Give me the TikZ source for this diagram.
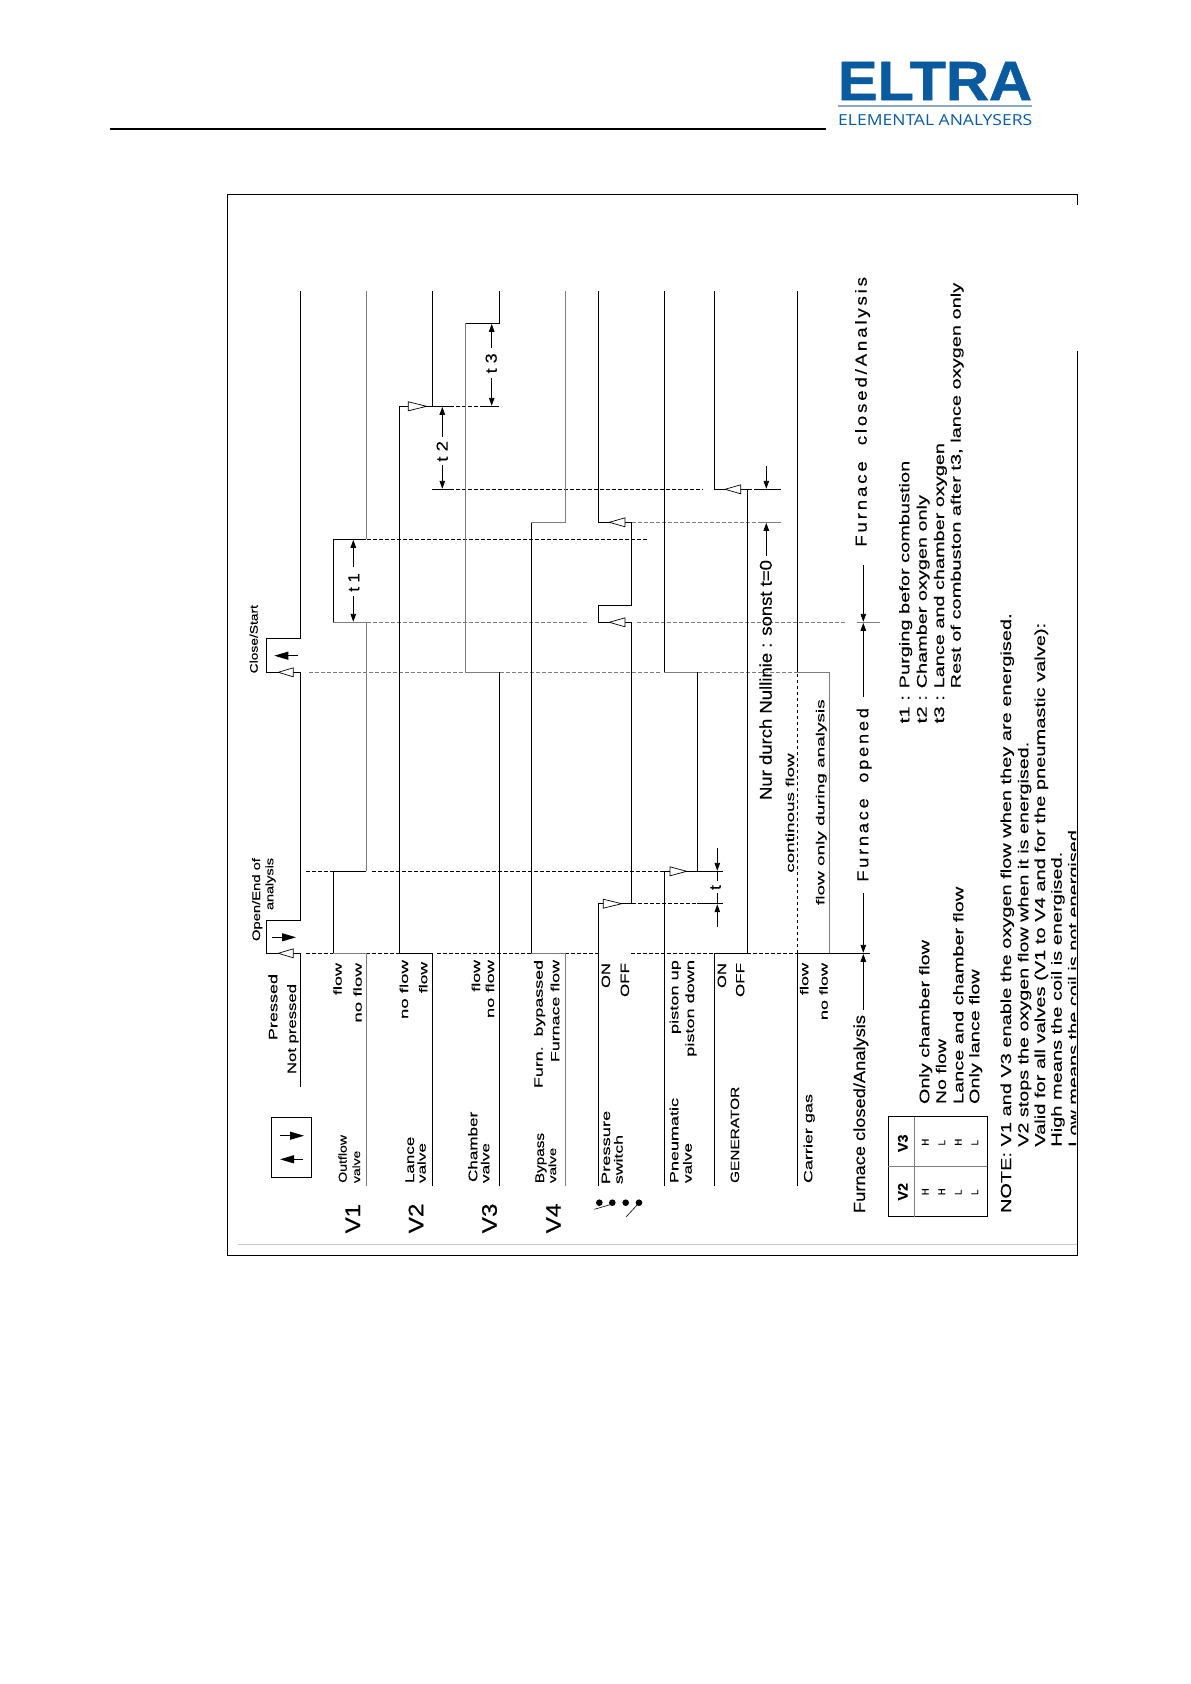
\documentclass[tikz,border=0pt]{standalone}
\usepackage{fontspec}
\usepackage{graphicx}
\setmainfont[FakeBold=0.15]{Liberation Sans}
\newfontfamily\plainbold[FakeBold=0.9]{Liberation Sans Bold}
\newfontfamily\heavyv[FakeBold=0.5]{Liberation Sans}
\newfontfamily\logofont{Open Sans}
\usetikzlibrary{arrows.meta}
\definecolor{gline}{RGB}{125,125,125}
\definecolor{eltrablue}{RGB}{10,90,160}
\definecolor{eltrabar}{RGB}{140,168,196}
\definecolor{pagegrey}{RGB}{200,200,200}
\newcounter{tn}
\newcommand{\tx}[5]{\stepcounter{tn}\pgfmathsetlengthmacro{\tl}{#3-#4}%
  \node[lab,name=t\thetn] at (#2,#3) {\resizebox{\tl}{\height}{\fontsize{#1}{#1}\selectfont #5}};}
\newcommand{\otri}[3]{\draw[otr] (#1,#2) -- (#3,#2-4.5) -- (#3,#2+4.5) -- cycle;}
\tikzset{
  lab/.style={rotate=90,anchor=base west,inner sep=0pt,outer sep=0pt},
  sig/.style={draw=black,line width=0.9pt,line join=miter},
  gsig/.style={draw=gline,line width=0.9pt,line join=miter},
  dsh/.style={draw=black,line width=0.8pt,dash pattern=on 3.5pt off 2.5pt},
  gdsh/.style={draw=gline,line width=0.8pt,dash pattern=on 3.5pt off 2.5pt},
  otr/.style={draw=black,line width=0.7pt,fill=white,line join=miter},
  dimn/.style={draw=black,line width=0.9pt,-{Triangle[length=8pt,width=5.5pt]}},
  plain/.style={draw=black,line width=0.9pt},
  big/.style={draw=black,line width=0.9pt,-{Triangle[length=14pt,width=8pt]}},
  frm/.style={draw=black,line width=1pt},
}
\begin{document}
\begin{tikzpicture}[x=1pt,y=-1pt]
\useasboundingbox[fill=white] (0,0) rectangle (1191,1684);
% header
\draw[line width=2pt] (110,129) -- (826,129);
\node[inner sep=0pt,anchor=base west,text=eltrablue] (logo) at (837.7,100)
  {\resizebox{194pt}{38pt}{\plainbold ELTRA}};
\fill[eltrabar] (837.7,104.7) rectangle (1031.7,106.9);
\node[inner sep=0pt,anchor=base west,text=eltrablue] (logosub) at (838,125)
  {\resizebox{194pt}{11pt}{\logofont ELEMENTAL ANALYSERS}};
% frame
\draw[frm] (1077,205) -- (1077,194) -- (227,194) -- (227,1255.5) -- (1077,1255.5) -- (1077,351);
\draw[draw=pagegrey,line width=0.9pt] (238,1244) -- (1077,1244);
% dashed guide lines
\draw[dsh] (306,953.3) -- (333,953.3) (366,953.3) -- (399,953.3) (437,953.3) -- (531,953.3)
  (565,953.3) -- (598,953.3) (631,953.3) -- (714,953.3) (747,953.3) -- (797,953.3);
\draw[dsh] (306,871.3) -- (333,871.3) (372,871.3) -- (664,871.3);
\draw[dsh] (632,903.7) -- (698,903.7);
\draw[gdsh] (309,672.3) -- (465,672.3) (500,672.3) -- (660,672.3) (698,672.3) -- (797,672.3);
\draw[gdsh] (367,622.3) -- (588,622.3) (637,622.3) -- (847,622.3);
\draw[dsh] (367,539.3) -- (647,539.3);
\draw[gdsh] (632,522.3) -- (758,522.3);
\draw[dsh] (450,489.3) -- (703,489.3) (748,489.3) -- (758,489.3);
\draw[dsh] (450,406.3) -- (480,406.3);
\draw[dsh] (797.3,953.3) -- (797.3,672.3);
% signal traces
\draw[sig] (300.3,1087) -- (300.3,953.3) -- (266,953.3) -- (266,920.3) -- (300.3,920.3) -- (300.3,672.3)
  -- (266,672.3) -- (266,638.3) -- (300.3,638.3) -- (300.3,291);
\draw[gsig] (366.3,1186) -- (366.3,953.3) -- (333.3,953.3);
\draw[sig] (333.3,953.3) -- (333.3,871.3) -- (366.3,871.3);
\draw[gsig] (366.3,871.3) -- (366.3,622.3) -- (333.3,622.3);
\draw[sig] (333.3,622.3) -- (333.3,539.3) -- (366.3,539.3);
\draw[gsig] (366.3,539.3) -- (366.3,291);
\draw[sig] (432.3,1186) -- (432.3,953.3) -- (399.3,953.3) -- (399.3,406.3) -- (432.3,406.3) -- (432.3,291);
\draw[sig] (499.3,1186) -- (499.3,672.3);
\draw[gsig] (499.3,672.3) -- (465.7,672.3) -- (465.7,323.3);
\draw[sig] (465.7,323.3) -- (499.3,323.3) -- (499.3,291);
\draw[gsig] (565.3,1186) -- (565.3,953.3) -- (531.3,953.3);
\draw[sig] (531.3,953.3) -- (531.3,522.3);
\draw[gsig] (531.3,522.3) -- (565.3,522.3) -- (565.3,291);
\draw[sig] (598.3,1186) -- (598.3,903.7) -- (631.3,903.7) -- (631.3,622.3) -- (598.3,622.3) -- (598.3,605)
  -- (631.3,605) -- (631.3,522.3) -- (598.3,522.3) -- (598.3,291);
\draw[sig] (664.3,1186) -- (664.3,871.3) -- (697.3,871.3) -- (697.3,672.3);
\draw[gsig] (697.3,672.3) -- (664.3,672.3);
\draw[sig] (664.3,672.3) -- (664.3,291);
\draw[sig] (714.3,1186) -- (714.3,953.3) -- (747.3,953.3) -- (747.3,489.3) -- (714.3,489.3) -- (714.3,291);
\draw[sig] (797.3,1186) -- (797.3,953.3) -- (870,953.3);
\draw[gsig] (829.3,953.3) -- (829.3,672.3) -- (797.3,672.3);
\draw[sig] (797.3,672.3) -- (797.3,291);
% solid extension ticks
\draw[plain] (697.3,903.7) -- (723,903.7) (697.3,871.3) -- (723,871.3);
\draw[plain] (432.3,489.3) -- (450,489.3) (432.3,406.3) -- (450,406.3) (480,406.3) -- (499,406.3);
\draw[draw=gline,line width=0.9pt] (857,622.3) -- (880,622.3) (758,522.3) -- (781,522.3);
\draw[plain] (758,489.3) -- (781,489.3);
% open arrowheads
\otri{278.3}{953.3}{293.3}
\otri{278.3}{672.3}{293.3}
\otri{609.3}{622.3}{625}
\otri{609.3}{522.3}{625}
\otri{426.7}{406.3}{408.3}
\otri{725}{489.3}{740.7}
\otri{686.7}{871.3}{670}
\otri{621.7}{903.7}{603.3}
% filled arrows
\draw[big] (272,937.3) -- (296,937.3);
\draw[big] (297.7,655.7) -- (274.3,655.7);
% legend box
\draw[frm] (271.3,1117.3) rectangle (311.7,1177.3);
\draw[big] (280,1135.7) -- (304,1135.7);
\draw[big] (302.7,1159.3) -- (280,1159.3);
% dimension lines
\draw[dimn] (353.3,566.7) -- (353.3,539.8);
\draw[dimn] (353.3,596) -- (353.3,621.8);
\draw[dimn] (442.3,436.7) -- (442.3,406.8);
\draw[dimn] (442.3,465) -- (442.3,488.8);
\draw[dimn] (491.7,348) -- (491.7,323.8);
\draw[dimn] (491.7,378) -- (491.7,405.8);
\draw[dimn] (717.3,848) -- (717.3,870.8);
\draw[dimn] (717.3,926.7) -- (717.3,904.2);
\draw[plain] (717.3,871.3) -- (717.3,881) (717.3,893) -- (717.3,903.7);
\draw[dimn] (766.3,466) -- (766.3,488.8);
\draw[dimn] (766.3,556) -- (766.3,522.8);
\draw[dimn] (863.3,565) -- (863.3,621.8);
\draw[dimn] (863.3,696.7) -- (863.3,622.8);
\draw[dimn] (863.3,893) -- (863.3,952.8);
\draw[dimn] (863.3,1010) -- (863.3,953.8);
% switch symbol
\foreach \dx in {599.3,612.3,625.7,639}{\fill (\dx,1202.7) ellipse (3.3pt and 3.3pt);}
\draw[line width=0.6pt] (594.3,1209.3) -- (612.3,1204);
\draw[line width=0.6pt] (626,1217) -- (638,1204);
% table
\draw[frm] (888.3,1116.7) rectangle (987.3,1216.7);
\draw[draw=gline,line width=0.8pt] (914.3,1116.7) -- (914.3,1216.7) (888.3,1166) -- (987.3,1166);
\tx{14}{907.7}{1200.5}{1183}{\bfseries V2}
\tx{14}{907.7}{1152}{1134.5}{\bfseries V3}
\tx{9.5}{928.5}{1195}{1188.5}{H}
\tx{9.5}{945}{1195}{1188.5}{H}
\tx{9.5}{961.5}{1195}{1189.5}{L}
\tx{9.5}{978}{1195}{1189.5}{L}
\tx{9.5}{928.5}{1145.5}{1139}{H}
\tx{9.5}{945}{1145.5}{1140}{L}
\tx{9.5}{961.5}{1145.5}{1139}{H}
\tx{9.5}{978}{1145.5}{1140}{L}
% left column labels
\tx{21}{360}{1233.3}{1204}{\heavyv V1}
\tx{21}{423.3}{1233.3}{1203.5}{\heavyv V2}
\tx{21}{496.7}{1233.3}{1203.5}{\heavyv V3}
\tx{21}{560.7}{1233.3}{1203.5}{\heavyv V4}
\tx{11.5}{346.7}{1182.7}{1135}{Outflow}
\tx{10.5}{360}{1183}{1150.7}{valve}
\tx{12.5}{414}{1183}{1136.7}{Lance}
\tx{11.5}{425.7}{1183}{1143}{valve}
\tx{12.5}{477.3}{1182}{1111.7}{Chamber}
\tx{11.5}{489.3}{1183}{1143}{valve}
\tx{12.5}{544}{1183}{1133}{Bypass}
\tx{10.5}{556}{1183}{1147.7}{valve}
\tx{12}{610}{1184}{1110.7}{Pressure}
\tx{12}{622.7}{1184}{1135}{switch}
\tx{12}{678.3}{1183}{1098}{Pneumatic}
\tx{12}{691.7}{1183}{1143}{valve}
\tx{12}{739}{1183}{1086.7}{GENERATOR}
\tx{12}{812.3}{1183}{1094}{Carrier gas}
% state labels
\tx{12.3}{277.3}{1040}{974}{Pressed}
\tx{12.3}{296}{1074}{984}{Not pressed}
\tx{11.5}{341.7}{995}{963}{flow}
\tx{11.5}{361.7}{1022.7}{963}{no flow}
\tx{11.5}{408}{1019}{960}{no flow}
\tx{11.5}{427.3}{993}{962}{flow}
\tx{11.5}{480}{991.7}{960}{flow}
\tx{11.5}{494}{1018}{960}{no flow}
\tx{12}{542.7}{1088}{960}{Furn.\ \ bypassed}
\tx{12}{559.3}{1062}{960}{Furnace flow}
\tx{12}{610}{988}{963}{ON}
\tx{12}{629}{997}{963}{OFF}
\tx{12}{678.3}{1034}{960}{piston up}
\tx{12}{694}{1056.7}{960}{piston down}
\tx{12}{726}{988}{963}{ON}
\tx{12}{744.3}{997}{963}{OFF}
\tx{11.5}{808.3}{995}{963}{flow}
\tx{11.5}{827.7}{1020}{963}{no flow}
\tx{11}{260}{941}{858}{Open/End of}
\tx{11}{273.3}{910}{858}{analysis}
\tx{11}{257.7}{673.3}{605}{Close/Start}
\tx{11.5}{794}{872.7}{753.3}{continous flow}
\tx{11.5}{824.3}{905}{699.3}{flow only during analysis}
% time labels
\tx{16}{359.3}{591.7}{573.3}{t 1}
\tx{16}{447.7}{461.7}{441}{t 2}
\tx{16}{496.7}{373.3}{353.3}{t 3}
\tx{16}{720.7}{890}{885}{t}
\tx{17}{771.7}{800}{560}{Nur durch Nullinie : sonst t=0}
% furnace
\tx{16}{865}{1213}{1015}{Furnace closed/Analysis}
\tx{16}{868.3}{881.7}{708}{\addfontfeature{LetterSpace=15}Furnace\ \ opened}
\tx{16}{866.7}{546.7}{277}{\addfontfeature{LetterSpace=15}Furnace\ \ closed/Analysis}
% legend texts
\tx{14}{909.3}{723.3}{695}{t1 :}
\tx{14}{926.7}{723.3}{695}{t2 :}
\tx{14}{944}{723.3}{695}{t3 :}
\tx{14}{909.3}{688.3}{460.7}{Purging befor combustion}
\tx{14}{926.7}{688.3}{495}{Chamber oxygen only}
\tx{14}{944}{688.3}{443}{Lance and chamber oxygen}
\tx{14}{960.7}{688.3}{282.7}{Rest of combuston after t3, lance oxygen only}
\tx{14}{929.3}{1104}{940}{Only chamber flow}
\tx{14}{946}{1104}{1039}{No flow}
\tx{14}{963.3}{1104}{886.7}{Lance and chamber flow}
\tx{14}{979.3}{1104}{969.3}{Only lance flow}
\tx{14.5}{1011}{1213}{613.3}{NOTE: V1 and V3 enable the oxygen flow when they are energised.}
\tx{14.5}{1028.3}{1146.7}{741.7}{V2 stops the oxygen flow when it is energised.}
\tx{14.5}{1045}{1146.7}{622.7}{Valid for all valves (V1 to V4 and for the pneumastic valve):}
\tx{14.5}{1061.7}{1146.7}{851.7}{High means the coil is energised.}
\begin{scope}
\clip (0,0) rectangle (1076,1684);
\tx{14.5}{1078.5}{1146.7}{830}{Low means the coil is not energised}
\end{scope}
\end{tikzpicture}
\end{document}
